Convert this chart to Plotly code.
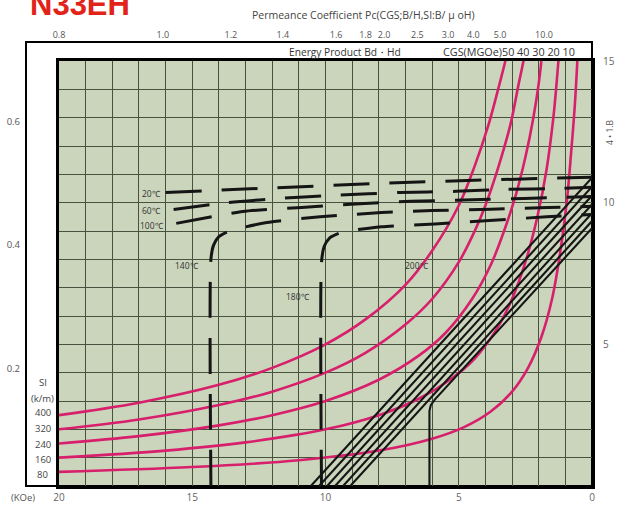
import plotly.graph_objects as go

# ---- axis labels ----
h_grid = list(range(0, 21))
h_labels = {20: "20", 15: "15", 10: "10", 5: "5", 0: "0"}
b_grid = list(range(0, 16))
b_labels = {15: "15", 10: "10", 5: "5"}
j_ticks = [0.2, 0.4, 0.6]
pc_labels = ["0.8", "1.0", "1.2", "1.4", "1.6", "1.8", "2.0", "2.5", "3.0", "4.0", "5.0", "10.0"]
pc_at_h = [20.0, 16.1, 13.55, 11.6, 9.6, 8.5, 7.8, 6.55, 5.4, 4.45, 3.45, 1.8]
si_labels = ["SI", "(k/m)", "400", "320", "240", "160", "80"]
si_at_b = [3.65, 3.1, 2.6, 2.02, 1.48, 0.92, 0.42]

# ---- energy product curves (MGOe) ----
e50_h = [20, 17, 14, 12, 10, 8.5, 7, 6, 5, 4.4, 3.9, 3.55, 3.25]
e50_b = [2.5, 2.94, 3.57, 4.17, 5.0, 5.88, 7.1, 8.3, 9.9, 11.3, 12.7, 13.9, 15.0]
e40_h = [20, 17, 14, 12, 10, 8.5, 7, 6, 5, 4.4, 4.0, 3.5, 3.05, 2.75, 2.57]
e40_b = [2.0, 2.35, 2.86, 3.33, 4.0, 4.7, 5.7, 6.6, 7.9, 9.0, 9.9, 11.3, 12.8, 14.2, 15.0]
e30_h = [20, 17, 14, 12, 10, 8, 6.5, 5.5, 4.5, 3.8, 3.3, 2.85, 2.5, 2.2, 2.0, 1.9]
e30_b = [1.5, 1.76, 2.14, 2.5, 3.0, 3.75, 4.6, 5.4, 6.6, 7.8, 9.0, 10.3, 11.6, 13.0, 14.2, 15.0]
e20_h = [20, 16, 13, 10, 8, 6.5, 5.3, 4.4, 3.6, 3.0, 2.5, 2.05, 1.7, 1.45, 1.33, 1.26]
e20_b = [1.0, 1.25, 1.54, 2.0, 2.5, 3.08, 3.77, 4.5, 5.5, 6.6, 7.9, 9.5, 11.2, 13.0, 14.2, 15.0]
e10_h = [20, 15, 11, 8, 6, 4.8, 3.8, 3.0, 2.4, 1.9, 1.5, 1.2, 0.95, 0.78, 0.64, 0.55]
e10_b = [0.5, 0.67, 0.91, 1.25, 1.67, 2.08, 2.63, 3.33, 4.17, 5.26, 6.6, 8.2, 10.0, 11.8, 13.5, 15.0]
energy_curves = [(e50_h, e50_b), (e40_h, e40_b), (e30_h, e30_b), (e20_h, e20_b), (e10_h, e10_b)]

# ---- normal B curves (straight), B at H=0 and H at B=0 ----
normal_br = [10.88, 10.56, 10.25, 9.94, 9.63, 9.35]
normal_hcb = [10.55, 10.24, 9.94, 9.64, 9.34, 9.07]
knee200_h = [0, 5.9, 6.05, 6.1, 6.1]
knee200_b = [9.1, 3.05, 2.85, 2.65, 0]

# ---- intrinsic curves ----
i20_h = [16.0, 12.0, 8.0, 4.0, 0]
i20_b = [10.36, 10.52, 10.68, 10.8, 10.9]
i60_h = [15.7, 13.7, 11.7, 9.6, 7.2, 5.1, 3.2, 1.3, 0]
i60_b = [9.76, 10.0, 10.15, 10.26, 10.36, 10.4, 10.47, 10.5, 10.54]
i100_h = [15.6, 13.1, 10.9, 9.05, 6.8, 4.5, 2.55, 0]
i100_b = [9.27, 9.69, 9.83, 9.94, 10.05, 10.1, 10.15, 10.22]
i140_h = [14.3, 14.3, 14.2, 14.0, 13.6, 12.2, 10.2, 7.9, 6.0, 3.8, 1.65, 0]
i140_b = [0, 8.0, 8.5, 8.8, 9.0, 9.3, 9.5, 9.65, 9.72, 9.77, 9.83, 9.87]
i180_h = [10.15, 10.15, 10.05, 9.85, 9.4, 7.9, 5.9, 3.7, 1.7, 0]
i180_b = [0, 7.9, 8.45, 8.75, 8.95, 9.15, 9.25, 9.38, 9.5, 9.58]
intrinsic = [(i20_h, i20_b), (i60_h, i60_b), (i100_h, i100_b), (i140_h, i140_b), (i180_h, i180_b)]

temp_labels = ["20℃", "60℃", "100℃", "140℃", "180℃", "200℃"]
temp_pos = [(16.1, 10.34, "right"), (16.1, 9.74, "right"), (16.0, 9.18, "right"),
            (15.2, 7.8, "center"), (11.05, 6.7, "center"), (6.55, 7.8, "center")]

PINK = "#d81f6c"
INK = "#151515"
W = 592.0  # paper width in px (margin l=0)


def py(y):
    # pixel row -> paper y (plot area spans rows 61..486)
    return (486 - y) / 425


fig = go.Figure()

for h, b in energy_curves:
    fig.add_trace(go.Scatter(x=h, y=b, mode="lines", line=dict(color=PINK, width=2.6, shape="spline"),
                             hoverinfo="skip"))

for br, hc in zip(normal_br, normal_hcb):
    fig.add_trace(go.Scatter(x=[0, hc], y=[br, 0], mode="lines", line=dict(color=INK, width=2.1),
                             hoverinfo="skip"))
fig.add_trace(go.Scatter(x=knee200_h, y=knee200_b, mode="lines", line=dict(color=INK, width=2.1),
                         hoverinfo="skip"))

for h, b in intrinsic:
    fig.add_trace(go.Scatter(x=h, y=b, mode="lines",
                             line=dict(color=INK, width=3, dash="36px,20px", shape="spline", smoothing=0.6),
                             hoverinfo="skip"))

# dummy traces so the extra axes are drawn
fig.add_trace(go.Scatter(x=[10], y=[0.4], yaxis="y2", mode="markers", marker=dict(opacity=0), hoverinfo="skip"))
fig.add_trace(go.Scatter(x=[10], y=[5], xaxis="x2", mode="markers", marker=dict(opacity=0), hoverinfo="skip"))

ann = []
for t, (hx, by, al) in zip(temp_labels, temp_pos):
    ann.append(dict(x=hx, y=by, xref="x", yref="y", text=t, showarrow=False, xanchor=al, yanchor="middle",
                    font=dict(size=8.5, color="#333")))
for t, by in zip(si_labels, si_at_b):
    ann.append(dict(x=43 / W, y=by, xref="paper", yref="y", text=t, showarrow=False,
                    xanchor="center", yanchor="middle", font=dict(size=9.5, color="#444")))


def label(x, y, text, size, color, **kw):
    d = dict(x=x / W, y=py(y), xref="paper", yref="paper", text=text, showarrow=False,
             xanchor="center", yanchor="middle", font=dict(size=size, color=color))
    d.update(kw)
    return d


ann += [
    label(28, 4, "<b>N33EH</b>", 31, "#e2231a", xanchor="left"),
    label(363, 15, "Permeance Coefficient Pc(CGS;B/H,SI:B/ μ oH)", 10.5, "#444"),
    label(345, 52, "Energy Product Bd・Hd", 10.2, "#333"),
    label(509, 52, "CGS(MGOe)50 40 30 20 10", 10.8, "#333"),
    label(23, 497, "(KOe)", 9.5, "#555"),
    label(609, 132, "4 • 1.B", 8.5, "#555", textangle=-90),
]
ann[-6]["font"]["family"] = "Liberation Sans"

fig.update_layout(
    width=619, height=512,
    margin=dict(l=0, r=27, t=61, b=26),
    paper_bgcolor="white", plot_bgcolor="#cad5bc",
    showlegend=False,
    font=dict(family="Open Sans", size=10, color="#555"),
    xaxis=dict(domain=[59 / W, 1], range=[20, 0], tickvals=h_grid, automargin=False,
               ticktext=[h_labels.get(v, "") for v in h_grid],
               showgrid=True, gridcolor="#46523e", gridwidth=1, zeroline=False,
               showline=True, linecolor="black", linewidth=3, mirror=True, ticks="",
               tickfont=dict(size=10, color="#666")),
    yaxis=dict(range=[0, 15], side="right", tickvals=b_grid, automargin=False,
               ticktext=[b_labels.get(v, "") for v in b_grid],
               showgrid=True, gridcolor="#46523e", gridwidth=1, zeroline=False,
               showline=True, linecolor="black", linewidth=3, mirror=True, ticks="",
               ticklabelstandoff=6, tickfont=dict(size=10, color="#666")),
    xaxis2=dict(overlaying="x", side="top", anchor="y", range=[20, 0], tickvals=pc_at_h, ticktext=pc_labels,
                showgrid=False, zeroline=False, ticks="", ticklabelstandoff=20, automargin=False,
                tickfont=dict(size=9, color="#555")),
    yaxis2=dict(overlaying="y", anchor="free", position=26 / W, side="left", range=[0.0097, 0.698],
                tickvals=j_ticks, showgrid=False, zeroline=False, ticks="", ticklabelstandoff=6,
                automargin=False, tickfont=dict(size=9.5, color="#555")),
    shapes=[dict(type="rect", xref="paper", yref="paper", x0=26 / W, x1=1, y0=0, y1=py(42),
                 line=dict(color="black", width=2), layer="below")],
    annotations=ann,
)

fig.write_html("out.html", config={"displayModeBar": False},
               post_script="document.body.style.margin='0';")
